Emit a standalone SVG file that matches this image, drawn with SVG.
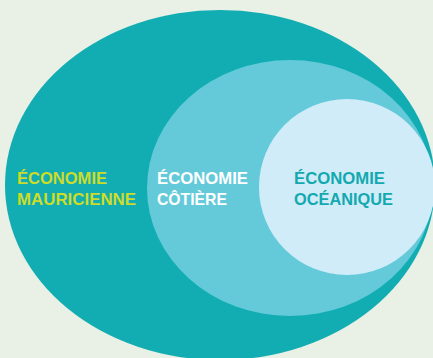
<svg xmlns="http://www.w3.org/2000/svg" width="433" height="358" viewBox="0 0 433 358">
<style>
text{font-family:"Liberation Sans",Arial,sans-serif;font-weight:bold;font-size:16.5px}
.y{fill:#cddc27}.w{fill:#ffffff}.t{fill:#13a9b0}
</style>
<rect width="433" height="358" fill="#e9f0e5"/>
<g id="mauricienne">
<ellipse cx="220" cy="185" rx="215" ry="175" fill="#12adb3"/>
<text class="y" x="17" y="184" textLength="90" lengthAdjust="spacingAndGlyphs">ÉCONOMIE</text>
<text class="y" x="17" y="205" textLength="119" lengthAdjust="spacingAndGlyphs">MAURICIENNE</text>
</g>
<g id="cotiere">
<ellipse cx="290" cy="188" rx="143" ry="128" fill="#64cad9"/>
<text class="w" x="157" y="184" textLength="91" lengthAdjust="spacingAndGlyphs">ÉCONOMIE</text>
<text class="w" x="157" y="205" textLength="70" lengthAdjust="spacingAndGlyphs">CÔTIÈRE</text>
</g>
<g id="oceanique">
<ellipse cx="347" cy="187" rx="88" ry="88" fill="#d0ecf9"/>
<text class="t" x="294" y="184" textLength="91" lengthAdjust="spacingAndGlyphs">ÉCONOMIE</text>
<text class="t" x="294" y="205" textLength="99" lengthAdjust="spacingAndGlyphs">OCÉANIQUE</text>
</g>
<g id="connectors"/>
</svg>
